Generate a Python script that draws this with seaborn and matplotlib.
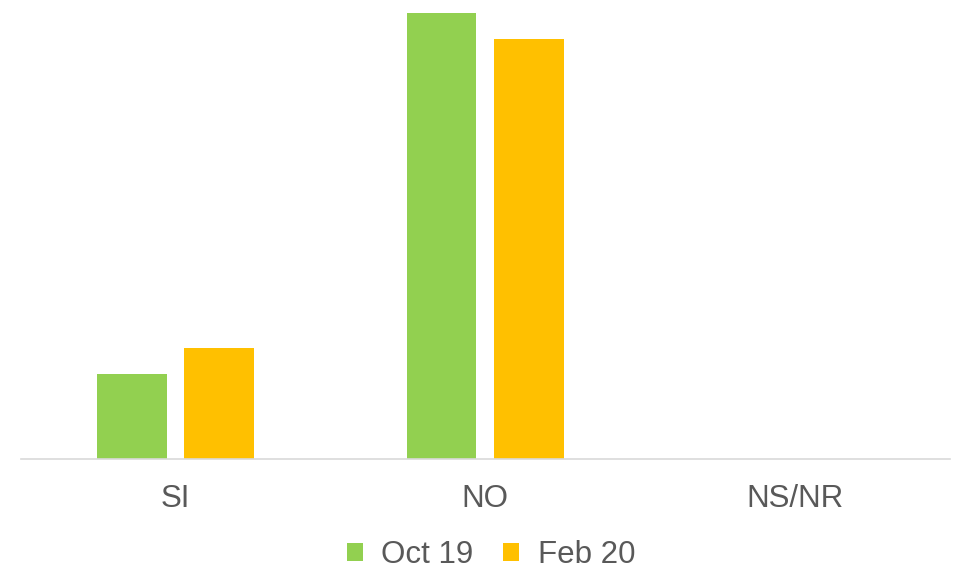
import numpy as np
import pandas as pd
import seaborn as sns
import matplotlib

matplotlib.use('Agg')
import matplotlib.pyplot as plt

# datos de la encuesta (porcentajes)
categorias = ["SI", "NO", "NS/NR"]
oct_19 = [16, 84, 0]
feb_20 = [21, 79, 0]
series = ["Oct 19", "Feb 20"]
colores = ["#92D050", "#FFC000"]

df = pd.DataFrame({
    "categoria": categorias * 2,
    "valor": oct_19 + feb_20,
    "periodo": [series[0]] * 3 + [series[1]] * 3,
})

sns.set_theme(style="white")
plt.rcParams['font.family'] = ['Liberation Sans', 'DejaVu Sans']

fig = plt.figure(figsize=(9.56, 5.71), dpi=100)
ax = fig.add_axes([0.0216, 0.1956, 0.9722, 0.8044])

sns.barplot(data=df, x="categoria", y="valor", hue="periodo",
            palette=colores, saturation=1, width=0.565, gap=0.204,
            linewidth=0, ax=ax)

ax.set_xlim(-0.5, 2.5)
ax.set_ylim(0, 86.4)
ax.set_xlabel("")
ax.set_ylabel("")
ax.set_yticks([])

for lado in ["top", "left", "right"]:
    ax.spines[lado].set_visible(False)
ax.spines["bottom"].set_color("#D9D9D9")
ax.spines["bottom"].set_linewidth(1.2)

ax.tick_params(axis="x", length=0, pad=18, labelsize=22.5, labelcolor="#595959")

sns.move_legend(ax, "center", bbox_to_anchor=(491 / 956, 1 - 555 / 571),
                bbox_transform=fig.transFigure, ncol=2, frameon=False,
                title=None, fontsize=22.5, handlelength=0.52, handleheight=0.52,
                handletextpad=0.59, columnspacing=0.95, borderpad=0.1)
for t in ax.get_legend().get_texts():
    t.set_color("#595959")

fig.savefig("out.png", dpi=100)
